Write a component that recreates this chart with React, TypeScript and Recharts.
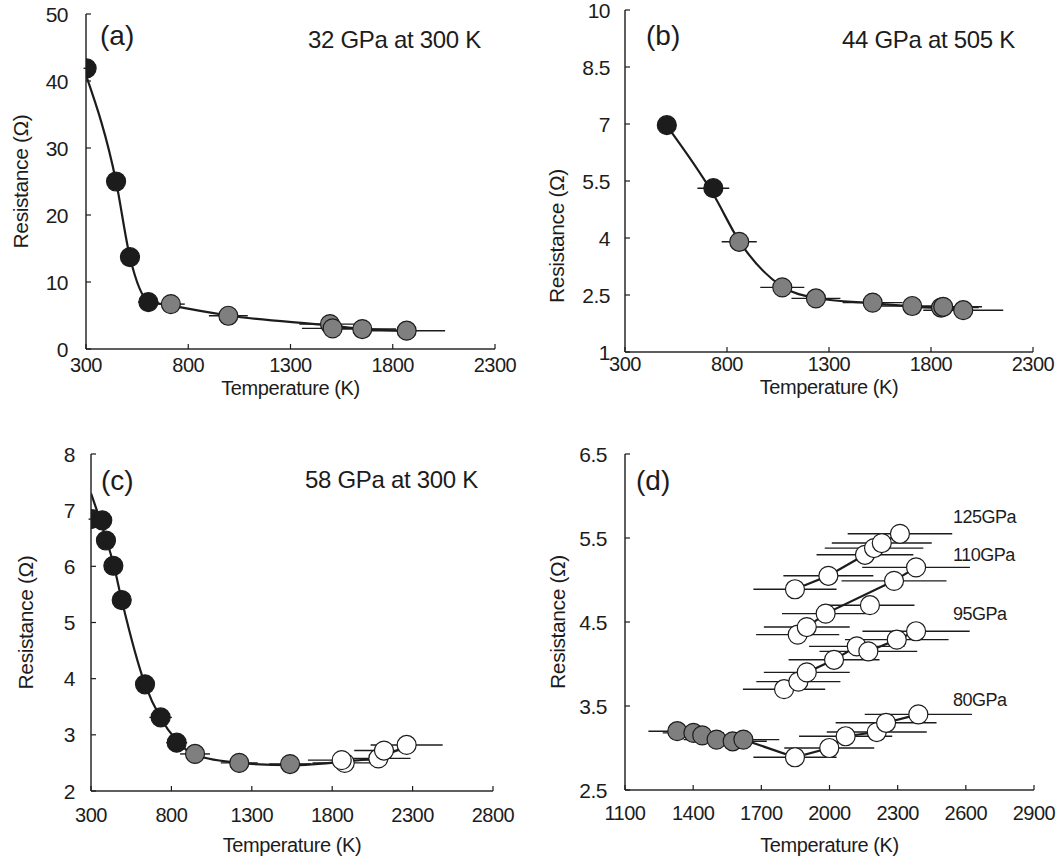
import React from "react";
import { ComposedChart, Scatter, Line, XAxis, YAxis, ErrorBar, Label } from "recharts";

const FONT = "'Liberation Sans', Arial, Helvetica, sans-serif";
const INK = "#1c1c1c";
const GREY = "#7f7f7f";
const TICK_LEN = 5;

// (a) 32 GPa at 300 K
const aBlackT = [303, 447, 515, 605];
const aBlackR = [41.9, 25.0, 13.7, 7.0];
const aBlackErr = [15, 20, 25, 50];
const aGreyT = [715, 996, 1493, 1506, 1651, 1868];
const aGreyR = [6.7, 4.96, 3.72, 3.08, 2.98, 2.73];
const aGreyErr = [68, 95, 150, 150, 165, 188];
const aFitT = [303, 447, 515, 605, 715, 996, 1500, 1651, 1868];
const aFitR = [40.6, 25.0, 13.7, 7.2, 6.5, 5.0, 3.5, 3.0, 2.7];
const aTicksX = [300, 800, 1300, 1800, 2300];
const aTicksY = [0, 10, 20, 30, 40, 50];

// (b) 44 GPa at 505 K
const bBlackT = [505, 733];
const bBlackR = [6.97, 5.31];
const bBlackErr = [30, 78];
const bGreyT = [860, 1071, 1236, 1514, 1708, 1849, 1860, 1958];
const bGreyR = [3.9, 2.7, 2.41, 2.3, 2.21, 2.17, 2.19, 2.1];
const bGreyErr = [86, 108, 120, 147, 170, 185, 190, 196];
const bFitT = [505, 733, 860, 1071, 1236, 1514, 1708, 1958];
const bFitR = [6.95, 5.15, 3.92, 2.72, 2.42, 2.28, 2.2, 2.12];
const bTicksX = [300, 800, 1300, 1800, 2300];
const bTicksY = [1, 2.5, 4, 5.5, 7, 8.5, 10];

// (c) 58 GPa at 300 K
const cBlackT = [300, 370, 393, 439, 491, 636, 733, 833];
const cBlackR = [6.84, 6.82, 6.46, 6.01, 5.4, 3.9, 3.31, 2.86];
const cBlackErr = [15, 20, 20, 25, 30, 45, 70, 65];
const cGreyT = [947, 1222, 1538];
const cGreyR = [2.66, 2.5, 2.48];
const cGreyErr = [93, 115, 130];
const cWhiteT = [1878, 1859, 2087, 2122, 2263];
const cWhiteR = [2.5, 2.55, 2.58, 2.72, 2.82];
const cWhiteErr = [200, 210, 200, 185, 224];
const cFitT = [300, 393, 439, 491, 636, 733, 833, 947, 1222, 1538, 1860, 2087, 2263];
const cFitR = [7.3, 6.5, 6.05, 5.4, 3.9, 3.3, 2.9, 2.64, 2.5, 2.46, 2.52, 2.6, 2.8];
const cTicksX = [300, 800, 1300, 1800, 2300, 2800];
const cTicksY = [2, 3, 4, 5, 6, 7, 8];

// (d) runs at 80-125 GPa
const dGreyT = [1330, 1401, 1440, 1503, 1574, 1621];
const dGreyR = [3.2, 3.18, 3.15, 3.1, 3.08, 3.1];
const dGreyErr = [127, 135, 140, 145, 150, 158];
const d80T = [1848, 1999, 2071, 2208, 2249, 2391];
const d80R = [2.89, 3.0, 3.14, 3.19, 3.3, 3.4];
const d80Err = [183, 198, 205, 220, 222, 236];
const d95T = [1800, 1863, 1900, 2020, 2120, 2171, 2296, 2381];
const d95R = [3.7, 3.79, 3.9, 4.05, 4.21, 4.15, 4.29, 4.39];
const d95Err = [181, 185, 189, 200, 210, 215, 228, 236];
const d110T = [1860, 1900, 1983, 2178, 2284, 2381];
const d110R = [4.35, 4.44, 4.6, 4.7, 4.99, 5.15];
const d110Err = [183, 189, 192, 196, 231, 237];
const d110FitT = [1860, 1900, 1983, 2284, 2381];
const d110FitR = [4.35, 4.44, 4.6, 4.99, 5.15];
const d125T = [1848, 1995, 2156, 2196, 2230, 2310];
const d125R = [4.89, 5.05, 5.3, 5.38, 5.44, 5.55];
const d125Err = [183, 198, 213, 217, 220, 230];
const dTicksX = [1100, 1400, 1700, 2000, 2300, 2600, 2900];
const dTicksY = [2.5, 3.5, 4.5, 5.5, 6.5];

const pts = (t: number[], r: number[], e?: number[]) =>
  t.map((v, i) => ({ t: v, r: r[i], e: e ? e[i] : 0 }));

const tickStyle: React.CSSProperties = { fontFamily: FONT, fontSize: 20, fill: INK, letterSpacing: "-0.5px" };
const axisLine = { stroke: "#2a2a2a", strokeWidth: 1.5 };

const bottomTick = (dy: number) => (p: any) => (
  <g>
    <line x1={p.x} y1={p.y} x2={p.x} y2={p.y - TICK_LEN} stroke={INK} strokeWidth={1.2} />
    <text x={p.x} y={p.y + dy} textAnchor="middle" dominantBaseline="central" style={tickStyle}>
      {p.payload.value}
    </text>
  </g>
);
const leftTick = (gap: number) => (p: any) => (
  <g>
    <line x1={p.x} y1={p.y} x2={p.x + TICK_LEN} y2={p.y} stroke={INK} strokeWidth={1.2} />
    <text x={p.x - gap} y={p.y} textAnchor="end" dominantBaseline="central" style={{ ...tickStyle, fontSize: 21 }}>
      {p.payload.value}
    </text>
  </g>
);
const topTick = (p: any) => (
  <line x1={p.x} y1={p.y} x2={p.x} y2={p.y + TICK_LEN} stroke={INK} strokeWidth={1.2} />
);
const rightTick = (p: any) => (
  <line x1={p.x} y1={p.y} x2={p.x - TICK_LEN} y2={p.y} stroke={INK} strokeWidth={1.2} />
);

const titleStyle: React.CSSProperties = { fontFamily: FONT, fontSize: 20, fill: INK, letterSpacing: "-0.4px" };

const xTitle = (dy: number) => (p: any) => {
  const vb = p.viewBox;
  return (
    <text x={vb.x + vb.width / 2} y={vb.y + dy} textAnchor="middle" dominantBaseline="central" style={titleStyle}>
      Temperature (K)
    </text>
  );
};
const yTitle = (dx: number, shift: number) => (p: any) => {
  const vb = p.viewBox;
  const cx = vb.x + vb.width - dx;
  const cy = vb.y + vb.height / 2 + shift;
  return (
    <text x={cx} y={cy} transform={`rotate(-90 ${cx} ${cy})`} textAnchor="middle" dominantBaseline="central"
      style={{ ...titleStyle, fontSize: 21 }}>
      Resistance (Ω)
    </text>
  );
};

const marker = (fill: string) => (p: any) => (
  <circle cx={p.cx} cy={p.cy} r={9.5} fill={fill} stroke={INK} strokeWidth={1.2} />
);

const dots = (key: string, data: any[], fill: string) => (
  <Scatter key={key} data={data} dataKey="r" xAxisId="b" yAxisId="l" shape={marker(fill)} isAnimationActive={false}>
    <ErrorBar dataKey="e" direction="x" width={0} stroke={INK} strokeWidth={1.4} />
  </Scatter>
);
const fit = (key: string, data: any[], curve: "monotone" | "linear") => (
  <Line key={key} data={data} dataKey="r" xAxisId="b" yAxisId="l" type={curve} stroke={INK} strokeWidth={2.2}
    dot={false} activeDot={false} isAnimationActive={false} />
);

interface PanelProps {
  left: number; top: number; width: number; height: number;
  margin: { top: number; right: number; bottom: number; left: number };
  xDomain: [number, number]; xTicks: number[];
  yDomain: [number, number]; yTicks: number[];
  xTickDy: number; xTitleDy: number; yTickGap: number; yTitleDx: number; yTitleShift?: number;
  children: React.ReactNode;
}

function Panel(p: PanelProps) {
  return (
    <div style={{ position: "absolute", left: p.left, top: p.top }}>
      <ComposedChart width={p.width} height={p.height} margin={p.margin}>
        <XAxis xAxisId="b" dataKey="t" type="number" domain={p.xDomain} ticks={p.xTicks} interval={0}
          allowDataOverflow height={60} tickSize={0} tickMargin={0} tickLine={false} axisLine={axisLine}
          tick={bottomTick(p.xTickDy)}>
          <Label content={xTitle(p.xTitleDy)} />
        </XAxis>
        <XAxis xAxisId="t" orientation="top" type="number" domain={p.xDomain} ticks={p.xTicks} interval={0}
          allowDataOverflow height={0} tickSize={0} tickMargin={0} tickLine={false} axisLine={axisLine} tick={topTick} />
        <YAxis yAxisId="l" dataKey="r" type="number" domain={p.yDomain} ticks={p.yTicks} interval={0}
          allowDataOverflow width={70} tickSize={0} tickMargin={0} tickLine={false} axisLine={axisLine}
          tick={leftTick(p.yTickGap)}>
          <Label content={yTitle(p.yTitleDx, p.yTitleShift ?? 0)} />
        </YAxis>
        <YAxis yAxisId="r" orientation="right" type="number" domain={p.yDomain} ticks={p.yTicks} interval={0}
          allowDataOverflow width={0} tickSize={0} tickMargin={0} tickLine={false} axisLine={axisLine} tick={rightTick} />
        {p.children}
      </ComposedChart>
    </div>
  );
}

const noteStyle: React.CSSProperties = { fontFamily: FONT, fill: INK };

export default function App() {
  return (
    <div style={{ position: "absolute", left: 0, top: 0, width: 1058, height: 865, background: "#fff" }}>
      <Panel left={0} top={0} width={529} height={432} margin={{ top: 14, right: 34, bottom: 23, left: 16 }}
        xDomain={[300, 2300]} xTicks={aTicksX} yDomain={[0, 50]} yTicks={aTicksY}
        xTickDy={16} xTitleDy={39} yTickGap={18} yTitleDx={66}>
        {fit("fit", pts(aFitT, aFitR), "monotone")}
        {dots("black", pts(aBlackT, aBlackR, aBlackErr), INK)}
        {dots("grey", pts(aGreyT, aGreyR, aGreyErr), GREY)}
      </Panel>
      <Panel left={529} top={0} width={529} height={432} margin={{ top: 10, right: 25, bottom: 20, left: 26 }}
        xDomain={[300, 2300]} xTicks={bTicksX} yDomain={[1, 10]} yTicks={bTicksY}
        xTickDy={12} xTitleDy={35} yTickGap={15} yTitleDx={69} yTitleShift={55}>
        {fit("fit", pts(bFitT, bFitR), "monotone")}
        {dots("black", pts(bBlackT, bBlackR, bBlackErr), INK)}
        {dots("grey", pts(bGreyT, bGreyR, bGreyErr), GREY)}
      </Panel>
      <Panel left={0} top={432} width={529} height={433} margin={{ top: 22, right: 36, bottom: 14, left: 21 }}
        xDomain={[300, 2800]} xTicks={cTicksX} yDomain={[2, 8]} yTicks={cTicksY}
        xTickDy={24} xTitleDy={54} yTickGap={16} yTitleDx={66}>
        {fit("fit", pts(cFitT, cFitR), "monotone")}
        {dots("black", pts(cBlackT, cBlackR, cBlackErr), INK)}
        {dots("grey", pts(cGreyT, cGreyR, cGreyErr), GREY)}
        {dots("white", pts(cWhiteT, cWhiteR, cWhiteErr), "#ffffff")}
      </Panel>
      <Panel left={529} top={432} width={529} height={433} margin={{ top: 22, right: 24, bottom: 15, left: 26 }}
        xDomain={[1100, 2900]} xTicks={dTicksX} yDomain={[2.5, 6.5]} yTicks={dTicksY}
        xTickDy={23} xTitleDy={55} yTickGap={18} yTitleDx={68}>
        {fit("fit80", pts(dGreyT.concat(d80T), dGreyR.concat(d80R)), "linear")}
        {fit("fit95", pts(d95T, d95R), "linear")}
        {fit("fit110", pts(d110FitT, d110FitR), "linear")}
        {fit("fit125", pts(d125T, d125R), "linear")}
        {dots("grey", pts(dGreyT, dGreyR, dGreyErr), GREY)}
        {dots("p80", pts(d80T, d80R, d80Err), "#ffffff")}
        {dots("p95", pts(d95T, d95R, d95Err), "#ffffff")}
        {dots("p110", pts(d110T, d110R, d110Err), "#ffffff")}
        {dots("p125", pts(d125T, d125R, d125Err), "#ffffff")}
      </Panel>
      <svg width={1058} height={865} style={{ position: "absolute", left: 0, top: 0, pointerEvents: "none" }}>
        <g style={noteStyle}>
          <text x={100} y={45} fontSize={28}>(a)</text>
          <text x={481} y={48} fontSize={24} textAnchor="end" letterSpacing="-0.3">32 GPa at 300 K</text>
          <text x={646} y={45} fontSize={28}>(b)</text>
          <text x={1015} y={48} fontSize={24} textAnchor="end" letterSpacing="-0.3">44 GPa at 505 K</text>
          <text x={101} y={490} fontSize={28}>(c)</text>
          <text x={478} y={488} fontSize={24} textAnchor="end" letterSpacing="-0.3">58 GPa at 300 K</text>
          <text x={636} y={490} fontSize={28}>(d)</text>
          <text x={953} y={523} fontSize={18} letterSpacing="-0.5">125GPa</text>
          <text x={953} y={561} fontSize={18} letterSpacing="-0.5">110GPa</text>
          <text x={953} y={620} fontSize={18} letterSpacing="-0.5">95GPa</text>
          <text x={953} y={706} fontSize={18} letterSpacing="-0.5">80GPa</text>
        </g>
      </svg>
    </div>
  );
}
